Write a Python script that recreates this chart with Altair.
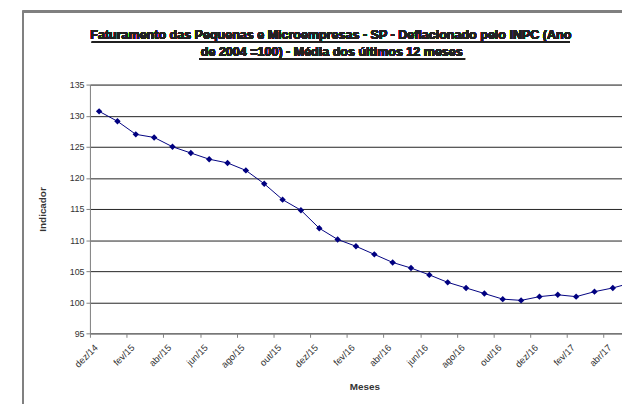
import json
import altair as alt
import pandas as pd

meses = ["dez/14", "jan/15", "fev/15", "mar/15", "abr/15", "mai/15", "jun/15", "jul/15",
         "ago/15", "set/15", "out/15", "nov/15", "dez/15", "jan/16", "fev/16", "mar/16",
         "abr/16", "mai/16", "jun/16", "jul/16", "ago/16", "set/16", "out/16", "nov/16",
         "dez/16", "jan/17", "fev/17", "mar/17", "abr/17", "mai/17"]
valores = [130.7, 129.1, 127.0, 126.5, 125.0, 124.0, 123.0, 122.4, 121.2, 119.05,
           116.5, 114.8, 111.9, 110.1, 109.0, 107.7, 106.4, 105.5, 104.4, 103.2,
           102.3, 101.4, 100.5, 100.3, 100.9, 101.2, 100.9, 101.7, 102.3, 103.1]
y_ticks = [95, 100, 105, 110, 115, 120, 125, 130, 135]
titulo = ["Faturamento das Pequenas e Microempresas - SP - Deflacionado pelo INPC (Ano ",
          "de 2004 =100) - Média dos últimos 12 meses"]

df = pd.DataFrame({"i": list(range(len(meses))), "mes": meses, "valor": valores})

FONT = "Liberation Sans"
label_expr = json.dumps(meses) + "[datum.value]"

x_enc = alt.X("i:Q",
              scale=alt.Scale(domain=[-0.5, 28.5], nice=False, zero=False),
              axis=alt.Axis(values=list(range(0, 29, 2)), labelExpr=label_expr,
                            labelAngle=-45, labelFontSize=9.5, labelFont=FONT,
                            labelColor="#333333", tickOffset=-9.3, labelOffset=2.5,
                            tickSize=4, tickColor="#808080", domainColor="#808080",
                            labelPadding=5, grid=False, title="Meses",
                            titleFont=FONT, titleFontSize=10, titleFontWeight="bold",
                            titleColor="#333333", titleX=278, titleY=54,
                            titleBaseline="middle", titleAlign="center"))
y_enc = alt.Y("valor:Q",
              scale=alt.Scale(domain=[95, 135], nice=False, zero=False),
              axis=alt.Axis(values=y_ticks, labelFontSize=9, labelFont=FONT,
                            labelColor="#333333", tickSize=4, tickColor="#808080",
                            domainColor="#808080", gridColor="#222222", gridWidth=1,
                            labelPadding=2, title="Indicador", titleFont=FONT,
                            titleFontSize=10, titleFontWeight="bold",
                            titleColor="#333333", titleX=-48, titleBaseline="middle"))

base = alt.Chart(df)
linha = base.mark_line(color="#000080", strokeWidth=1, clip=True).encode(x=x_enc, y=y_enc)
pontos = base.mark_point(shape="diamond", filled=True, color="#000080", size=42,
                         opacity=1, clip=True).encode(x=x_enc, y=y_enc)

frame_top = base.mark_rule(color="#808080", strokeWidth=1.5).encode(
    x=alt.value(-68), x2=alt.value(560), y=alt.value(-74))
frame_left = base.mark_rule(color="#808080", strokeWidth=1.5).encode(
    x=alt.value(-68), y=alt.value(-74), y2=alt.value(330))

t1 = base.mark_text(font=FONT, fontSize=12.7, fontWeight="bold", color="#222222",
                    align="center", baseline="middle").encode(
    x=alt.value(244), y=alt.value(-50), text=alt.value(titulo[0]))
t2 = base.mark_text(font=FONT, fontSize=12.7, fontWeight="bold", color="#222222",
                    align="center", baseline="middle").encode(
    x=alt.value(245), y=alt.value(-33), text=alt.value(titulo[1]))
sub1 = base.mark_rule(color="#222222", strokeWidth=1).encode(
    x=alt.value(2), x2=alt.value(486), y=alt.value(-43))
sub2 = base.mark_rule(color="#222222", strokeWidth=1).encode(
    x=alt.value(111), x2=alt.value(380), y=alt.value(-26))

chart = alt.layer(frame_top, frame_left, t1, t2, sub1, sub2, linha, pontos).properties(
    width=539, height=252,
    autosize=alt.AutoSizeParams(type="none"),
    padding={"left": 83, "top": 75, "right": 0, "bottom": 69},
).configure_view(stroke=None).configure(background="white")

chart.save("out.html", embed_options={"renderer": "svg", "actions": False})
